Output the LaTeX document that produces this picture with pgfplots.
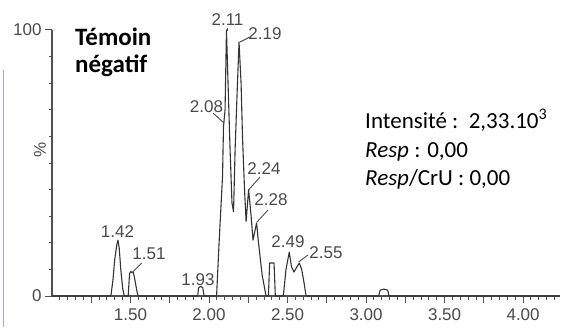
\documentclass[border=0pt]{standalone}
\usepackage{pgfplots}
\pgfplotsset{compat=1.18}
\usepackage{fontspec}
\setmainfont{Liberation Sans}
\newfontfamily\carlito{Carlito}
\definecolor{axgray}{HTML}{505050}
\definecolor{txtgray}{HTML}{4A4A4A}
\definecolor{lav}{HTML}{A8A8E0}

\pgfplotstableread{
x y
1.000 0
1.375 0
1.388 6
1.400 14
1.412 19
1.420 21
1.428 18
1.438 10
1.450 3
1.460 0
1.485 0
1.494 8.5
1.502 9.2
1.510 8.8
1.518 9
1.528 6
1.540 2
1.548 0
1.928 0
1.933 3
1.945 3.6
1.960 3.2
1.968 0
2.048 0
2.064 20
2.086 45
2.092 63.6
2.102 70
2.111 100
2.121 80
2.134 55
2.146 35
2.156 31.7
2.166 55
2.178 75
2.191 95.5
2.204 80
2.213 60
2.226 40
2.236 28
2.252 40
2.268 30
2.280 21
2.303 27.5
2.315 20
2.338 8
2.363 0
2.378 0
2.386 12.4
2.414 12.4
2.422 0
2.473 0
2.490 10
2.511 16.5
2.525 11
2.541 9
2.560 11
2.575 12.4
2.590 10
2.605 5
2.618 0
3.080 0
3.090 2.2
3.113 2.6
3.138 2.2
3.146 0
4.235 0
}\chrom

\begin{document}
\begin{tikzpicture}[x=1bp,y=1bp]
\path[use as bounding box] (0,0) rectangle (562,327);
\draw[lav, line width=1.2bp] (3.5,0) -- (3.5,257);
\begin{axis}[
  at={(52bp,31bp)}, anchor=south west, scale only axis,
  width=508bp, height=266bp,
  xmin=1.0, xmax=4.235, ymin=0, ymax=100,
  axis x line=bottom, axis y line=left,
  axis line style={-, axgray, line width=1.1bp},
  tick align=outside,
  major tick length=7bp, minor tick length=3.5bp,
  every tick/.style={axgray, line width=1bp},
  xtick={1.25,1.5,1.75,2.0,2.25,2.5,2.75,3.0,3.25,3.5,3.75,4.0},
  xticklabels={,1.50,,2.00,,2.50,,3.00,,3.50,,4.00},
  minor xtick={1.05,1.10,...,4.20},
  ytick={0,100}, minor ytick={10,20,...,90},
  tick label style={font=\fontsize{17bp}{19bp}\selectfont, text=txtgray},
  xticklabel style={yshift=-2bp},
  /pgf/number format/assume math mode=true,
  clip=false,
]
\addplot[black!80, line width=1.1bp, line join=round] table[x=x,y=y] {\chrom};
\end{axis}
% y axis label
\node[rotate=90, text=txtgray, font=\fontsize{17bp}{19bp}\selectfont, inner sep=0] at (40,177) {\%};
% peak labels
\begin{scope}[every node/.style={inner sep=0, text=txtgray, font=\fontsize{17bp}{19bp}\selectfont}]
\node at (227.5,307.5) {2.11};
\node at (265,293.5) {2.19};
\node at (206.5,220.3) {2.08};
\node at (264,158) {2.24};
\node at (271,127) {2.28};
\node at (117.5,95.3) {1.42};
\node at (149,73) {1.51};
\node at (198,47) {1.93};
\node at (288,85.3) {2.49};
\node at (326,74) {2.55};
\end{scope}
\begin{scope}[txtgray, line width=0.9bp]
\draw (227.5,299) -- (227.5,296);
\draw (240,285) -- (250,290);
\draw (213,214) -- (224,204);
\draw (260,150) -- (248.5,137);
\draw (268,117) -- (257,105);
\draw (141.7,64) -- (131.7,54);
\draw (308,72) -- (298.5,65);
\end{scope}
% titles
\node[anchor=base west, inner sep=0, font=\carlito\bfseries\fontsize{25bp}{27bp}\selectfont] at (75,282) {Témoin};
\node[anchor=base west, inner sep=0, font=\carlito\bfseries\fontsize{25bp}{27bp}\selectfont] at (75,255) {négatif};
\begin{scope}[every node/.style={anchor=base west, inner sep=0, font=\carlito\fontsize{23bp}{27bp}\selectfont}]
\node at (365,199) {Intensité :\ \ 2,33.10\textsuperscript{3}};
\node at (365,170) {\textit{Resp} : 0,00};
\node at (365,142) {\textit{Resp}/CrU : 0,00};
\end{scope}
\end{tikzpicture}
\end{document}
